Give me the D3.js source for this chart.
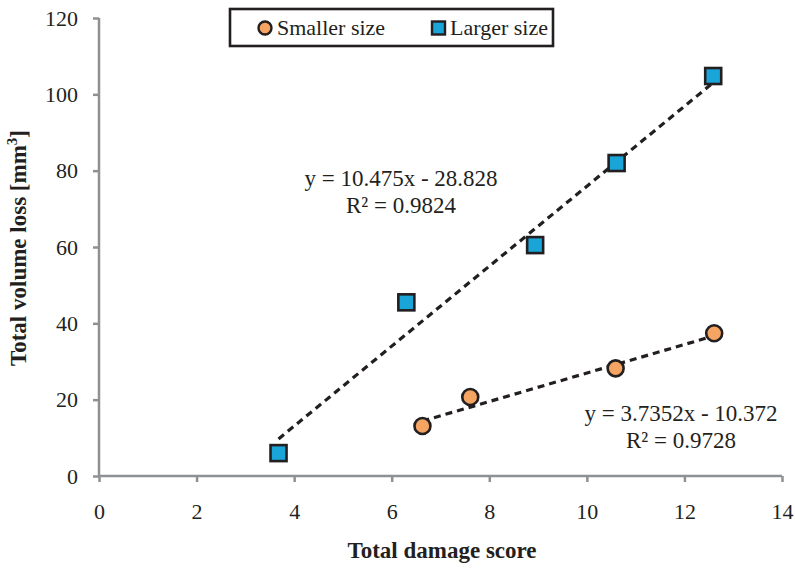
<!DOCTYPE html>
<html>
<head>
<meta charset="utf-8">
<script src="https://cdn.jsdelivr.net/npm/d3@7"></script>
<style>
  html, body { margin: 0; padding: 0; background: #fff; }
</style>
</head>
<body>
<svg id="chart" width="795" height="573" font-family="'Liberation Serif'"></svg>
<script>
// ---- data ----
const xTicks = [0, 2, 4, 6, 8, 10, 12, 14];
const yTicks = [0, 20, 40, 60, 80, 100, 120];
const smallerX = [6.63, 7.61, 10.59, 12.61];
const smallerY = [13.1, 20.7, 28.2, 37.4];
const largerX = [3.68, 6.30, 8.94, 10.61, 12.59];
const largerY = [6.0, 45.5, 60.5, 82.0, 104.8];
const seriesNames = ["Smaller size", "Larger size"];
const smallerFit = { slope: 3.7352, intercept: -10.372, r2: "0.9728" };
const largerFit = { slope: 10.475, intercept: -28.828, r2: "0.9824" };
const xTitle = "Total damage score";
const yTitle = "Total volume loss [mm";

(function () {
const FONT = "'Liberation Serif'";
const svg = d3.select("#chart");
const pLeft = 99, pRight = 782, pTop = 18, pBottom = 476;
const x = d3.scaleLinear().domain([0, 14]).range([pLeft, pRight]);
const y = d3.scaleLinear().domain([0, 120]).range([pBottom, pTop]);

const axisColor = "#8e9194";
const orange = "#f5a462";
const blue = "#1aa5d8";
const edge = "#231f20";
const ink = "#231f20";

// axes
const yAxis = svg.append("g").attr("transform", `translate(${pLeft},0)`)
  .call(d3.axisLeft(y).tickValues(yTicks).tickSize(6).tickPadding(15));
const xAxis = svg.append("g").attr("transform", `translate(0,${pBottom})`)
  .call(d3.axisBottom(x).tickValues(xTicks).tickSize(6).tickPadding(21));
[xAxis, yAxis].forEach(g => {
  g.attr("font-family", FONT).attr("font-size", 22);
  g.select(".domain").attr("stroke", axisColor).attr("stroke-width", 2.5);
  g.selectAll(".tick line").attr("stroke", axisColor).attr("stroke-width", 2.5);
  g.selectAll(".tick text").attr("fill", ink).attr("font-family", FONT);
});
xAxis.select(".domain").attr("d", `M${pLeft},0H${pRight}`);
yAxis.select(".domain").attr("d", `M0,${y(120)}V${pBottom}`);

// axis titles
svg.append("text").attr("x", 442).attr("y", 558)
  .attr("text-anchor", "middle").attr("font-weight", "bold")
  .attr("font-family", FONT).attr("font-size", 23).attr("fill", ink).text(xTitle);
const yt = svg.append("text")
  .attr("transform", `translate(26,248) rotate(-90)`)
  .attr("text-anchor", "middle").attr("font-weight", "bold")
  .attr("font-family", FONT).attr("font-size", 23).attr("fill", ink);
yt.append("tspan").text(yTitle);
yt.append("tspan").attr("font-size", 15).attr("dy", -9).text("3");
yt.append("tspan").attr("dy", 9).text("]");

// trend lines
function trend(xs, fit) {
  const x0 = d3.min(xs), x1 = d3.max(xs);
  svg.append("line")
    .attr("x1", x(x0)).attr("y1", y(fit.slope * x0 + fit.intercept))
    .attr("x2", x(x1)).attr("y2", y(fit.slope * x1 + fit.intercept))
    .attr("stroke", edge).attr("stroke-width", 3.2)
    .attr("stroke-dasharray", "7,5");
}
trend(largerX, largerFit);
trend(smallerX, smallerFit);

// markers
svg.append("g").selectAll("circle").data(d3.zip(smallerX, smallerY)).join("circle")
  .attr("cx", d => x(d[0])).attr("cy", d => y(d[1])).attr("r", 8)
  .attr("fill", orange).attr("stroke", edge).attr("stroke-width", 2.6);
svg.append("g").selectAll("rect").data(d3.zip(largerX, largerY)).join("rect")
  .attr("x", d => x(d[0]) - 8).attr("y", d => y(d[1]) - 8)
  .attr("width", 16).attr("height", 16)
  .attr("fill", blue).attr("stroke", edge).attr("stroke-width", 2.6);

// equations
function eq(cx, by, fit) {
  const sign = fit.intercept < 0 ? " - " : " + ";
  svg.append("text").attr("x", cx).attr("y", by).attr("text-anchor", "middle")
    .attr("font-family", FONT).attr("font-size", 23).attr("fill", ink)
    .text(`y = ${fit.slope}x${sign}${Math.abs(fit.intercept)}`);
  svg.append("text").attr("x", cx).attr("y", by + 27).attr("text-anchor", "middle")
    .attr("font-family", FONT).attr("font-size", 23).attr("fill", ink)
    .text(`R² = ${fit.r2}`);
}
eq(401, 186, largerFit);
eq(681, 421, smallerFit);

// legend
const lg = svg.append("g").attr("font-family", FONT);
lg.append("rect").attr("x", 230).attr("y", 9).attr("width", 323).attr("height", 37)
  .attr("fill", "#fff").attr("stroke", edge).attr("stroke-width", 2.6);
lg.append("circle").attr("cx", 265).attr("cy", 28).attr("r", 6.5)
  .attr("fill", orange).attr("stroke", edge).attr("stroke-width", 2.4);
lg.append("text").attr("x", 277).attr("y", 35).attr("font-size", 22)
  .attr("fill", ink).text(seriesNames[0]);
lg.append("rect").attr("x", 432).attr("y", 21.5).attr("width", 13).attr("height", 13)
  .attr("fill", blue).attr("stroke", edge).attr("stroke-width", 2.4);
lg.append("text").attr("x", 450).attr("y", 35).attr("font-size", 22)
  .attr("fill", ink).text(seriesNames[1]);
})();
</script>
</body>
</html>
